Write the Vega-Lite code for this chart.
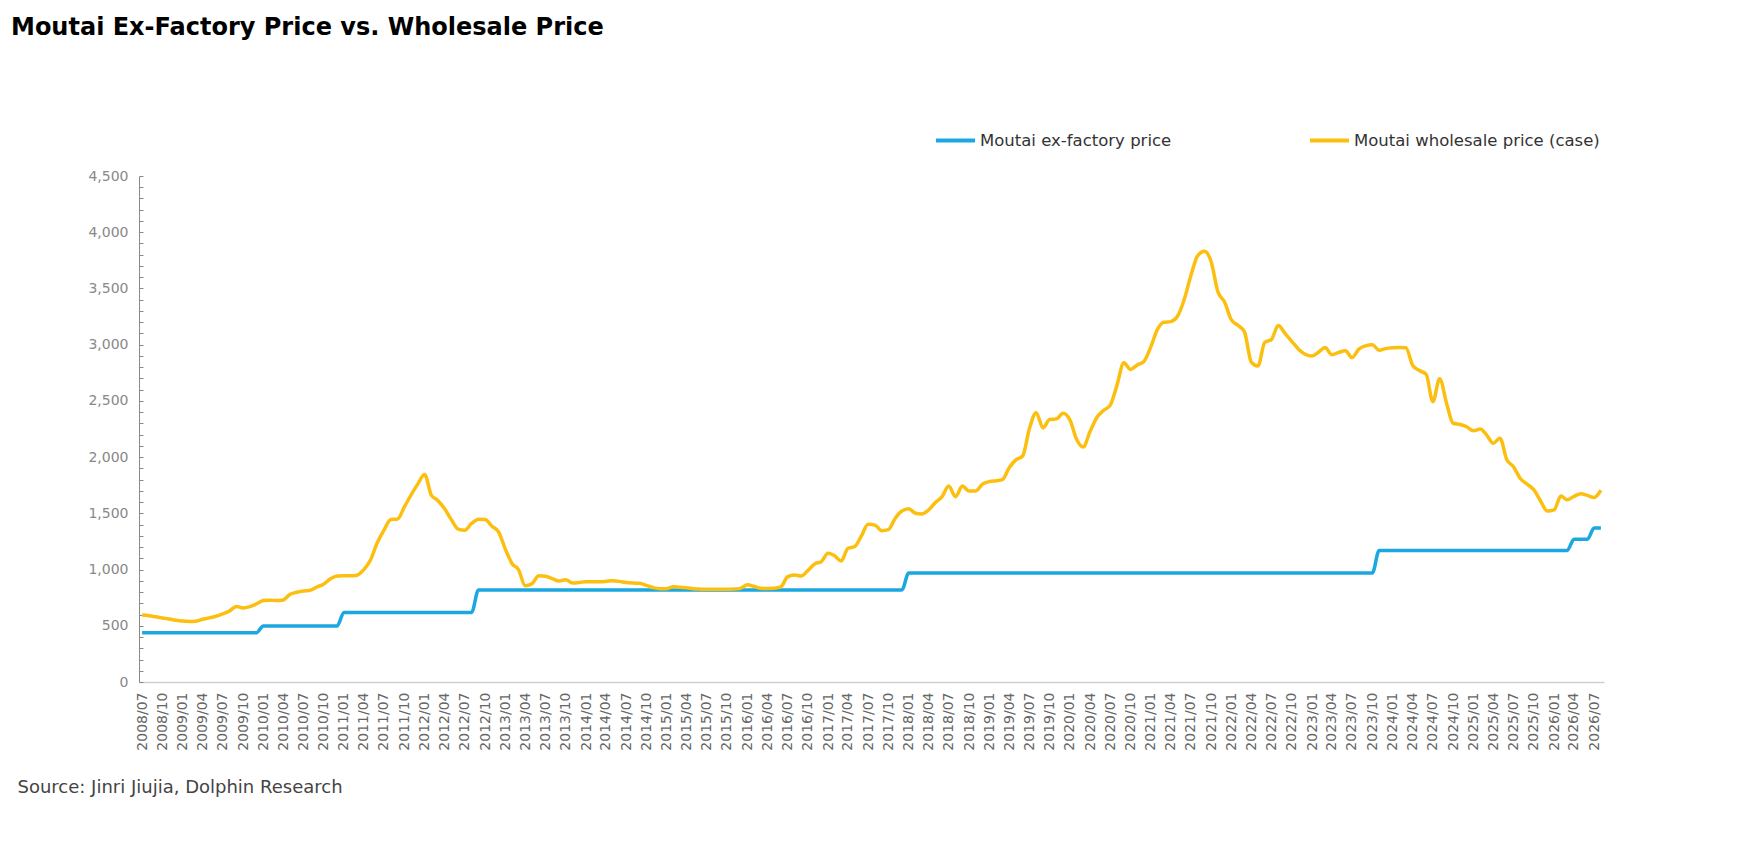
{
  "$schema": "https://vega.github.io/schema/vega-lite/v6.json",
  "autosize": {"type": "none"},
  "width": 1465,
  "height": 506,
  "padding": {"left": 139, "top": 176, "right": 142, "bottom": 176},
  "background": "white",
  "title": {
    "text": "Moutai Ex-Factory Price vs. Wholesale Price",
    "anchor": "start",
    "frame": "group",
    "dx": -128,
    "font": "DejaVu Sans",
    "fontSize": 24,
    "fontWeight": "bold",
    "color": "#000000",
    "offset": 79
  },
  "datasets": {
    "exfactory": [
      {"month": "2008-07", "price": 439},
      {"month": "2009-12", "price": 439},
      {"month": "2010-01", "price": 499},
      {"month": "2010-12", "price": 499},
      {"month": "2011-01", "price": 619},
      {"month": "2012-08", "price": 619},
      {"month": "2012-09", "price": 819},
      {"month": "2017-12", "price": 819},
      {"month": "2018-01", "price": 969},
      {"month": "2023-10", "price": 969},
      {"month": "2023-11", "price": 1169},
      {"month": "2026-03", "price": 1169},
      {"month": "2026-04", "price": 1269},
      {"month": "2026-06", "price": 1269},
      {"month": "2026-07", "price": 1369},
      {"month": "2026-08", "price": 1369}
    ],
    "wholesale": [
      {"month": "2008-07", "price": 595}, {"month": "2008-08", "price": 590}, {"month": "2008-09", "price": 580},
      {"month": "2008-10", "price": 570}, {"month": "2008-11", "price": 560}, {"month": "2008-12", "price": 550},
      {"month": "2009-01", "price": 542}, {"month": "2009-02", "price": 538}, {"month": "2009-03", "price": 540},
      {"month": "2009-04", "price": 558}, {"month": "2009-05", "price": 570}, {"month": "2009-06", "price": 585},
      {"month": "2009-07", "price": 605}, {"month": "2009-08", "price": 632}, {"month": "2009-09", "price": 672},
      {"month": "2009-10", "price": 658}, {"month": "2009-11", "price": 670}, {"month": "2009-12", "price": 695},
      {"month": "2010-01", "price": 724}, {"month": "2010-02", "price": 728}, {"month": "2010-03", "price": 724},
      {"month": "2010-04", "price": 730}, {"month": "2010-05", "price": 778}, {"month": "2010-06", "price": 798},
      {"month": "2010-07", "price": 810}, {"month": "2010-08", "price": 816}, {"month": "2010-09", "price": 845},
      {"month": "2010-10", "price": 870}, {"month": "2010-11", "price": 918}, {"month": "2010-12", "price": 942},
      {"month": "2011-01", "price": 945}, {"month": "2011-02", "price": 945}, {"month": "2011-03", "price": 950},
      {"month": "2011-04", "price": 1000}, {"month": "2011-05", "price": 1085}, {"month": "2011-06", "price": 1240},
      {"month": "2011-07", "price": 1350}, {"month": "2011-08", "price": 1445}, {"month": "2011-09", "price": 1450},
      {"month": "2011-10", "price": 1555}, {"month": "2011-11", "price": 1665}, {"month": "2011-12", "price": 1760},
      {"month": "2012-01", "price": 1845}, {"month": "2012-02", "price": 1660}, {"month": "2012-03", "price": 1615},
      {"month": "2012-04", "price": 1540}, {"month": "2012-05", "price": 1444}, {"month": "2012-06", "price": 1360},
      {"month": "2012-07", "price": 1350}, {"month": "2012-08", "price": 1410}, {"month": "2012-09", "price": 1448},
      {"month": "2012-10", "price": 1445}, {"month": "2012-11", "price": 1385}, {"month": "2012-12", "price": 1335},
      {"month": "2013-01", "price": 1180}, {"month": "2013-02", "price": 1050}, {"month": "2013-03", "price": 1000},
      {"month": "2013-04", "price": 855}, {"month": "2013-05", "price": 873}, {"month": "2013-06", "price": 945},
      {"month": "2013-07", "price": 940}, {"month": "2013-08", "price": 920}, {"month": "2013-09", "price": 898},
      {"month": "2013-10", "price": 910}, {"month": "2013-11", "price": 880}, {"month": "2013-12", "price": 885},
      {"month": "2014-01", "price": 892}, {"month": "2014-02", "price": 892}, {"month": "2014-03", "price": 892},
      {"month": "2014-04", "price": 895}, {"month": "2014-05", "price": 900}, {"month": "2014-06", "price": 895},
      {"month": "2014-07", "price": 885}, {"month": "2014-08", "price": 880}, {"month": "2014-09", "price": 878},
      {"month": "2014-10", "price": 860}, {"month": "2014-11", "price": 839}, {"month": "2014-12", "price": 830},
      {"month": "2015-01", "price": 830}, {"month": "2015-02", "price": 848}, {"month": "2015-03", "price": 842},
      {"month": "2015-04", "price": 839}, {"month": "2015-05", "price": 830}, {"month": "2015-06", "price": 826},
      {"month": "2015-07", "price": 824}, {"month": "2015-08", "price": 824}, {"month": "2015-09", "price": 824},
      {"month": "2015-10", "price": 824}, {"month": "2015-11", "price": 826}, {"month": "2015-12", "price": 833},
      {"month": "2016-01", "price": 865}, {"month": "2016-02", "price": 850}, {"month": "2016-03", "price": 833},
      {"month": "2016-04", "price": 832}, {"month": "2016-05", "price": 833}, {"month": "2016-06", "price": 845},
      {"month": "2016-07", "price": 935}, {"month": "2016-08", "price": 952}, {"month": "2016-09", "price": 943},
      {"month": "2016-10", "price": 990}, {"month": "2016-11", "price": 1050}, {"month": "2016-12", "price": 1070},
      {"month": "2017-01", "price": 1144}, {"month": "2017-02", "price": 1120}, {"month": "2017-03", "price": 1076},
      {"month": "2017-04", "price": 1189}, {"month": "2017-05", "price": 1204}, {"month": "2017-06", "price": 1300},
      {"month": "2017-07", "price": 1402}, {"month": "2017-08", "price": 1395}, {"month": "2017-09", "price": 1346},
      {"month": "2017-10", "price": 1355}, {"month": "2017-11", "price": 1456}, {"month": "2017-12", "price": 1520},
      {"month": "2018-01", "price": 1540}, {"month": "2018-02", "price": 1500}, {"month": "2018-03", "price": 1494},
      {"month": "2018-04", "price": 1530}, {"month": "2018-05", "price": 1595}, {"month": "2018-06", "price": 1648},
      {"month": "2018-07", "price": 1743}, {"month": "2018-08", "price": 1648}, {"month": "2018-09", "price": 1743},
      {"month": "2018-10", "price": 1699}, {"month": "2018-11", "price": 1699}, {"month": "2018-12", "price": 1760},
      {"month": "2019-01", "price": 1782}, {"month": "2019-02", "price": 1790}, {"month": "2019-03", "price": 1800},
      {"month": "2019-04", "price": 1906}, {"month": "2019-05", "price": 1975}, {"month": "2019-06", "price": 2010},
      {"month": "2019-07", "price": 2250}, {"month": "2019-08", "price": 2395}, {"month": "2019-09", "price": 2260},
      {"month": "2019-10", "price": 2335}, {"month": "2019-11", "price": 2340}, {"month": "2019-12", "price": 2390},
      {"month": "2020-01", "price": 2330}, {"month": "2020-02", "price": 2154}, {"month": "2020-03", "price": 2090},
      {"month": "2020-04", "price": 2227}, {"month": "2020-05", "price": 2350}, {"month": "2020-06", "price": 2415},
      {"month": "2020-07", "price": 2460}, {"month": "2020-08", "price": 2640}, {"month": "2020-09", "price": 2840},
      {"month": "2020-10", "price": 2780}, {"month": "2020-11", "price": 2820}, {"month": "2020-12", "price": 2850},
      {"month": "2021-01", "price": 2980}, {"month": "2021-02", "price": 3140}, {"month": "2021-03", "price": 3200},
      {"month": "2021-04", "price": 3205}, {"month": "2021-05", "price": 3250}, {"month": "2021-06", "price": 3400},
      {"month": "2021-07", "price": 3610}, {"month": "2021-08", "price": 3790}, {"month": "2021-09", "price": 3830},
      {"month": "2021-10", "price": 3740}, {"month": "2021-11", "price": 3470}, {"month": "2021-12", "price": 3380},
      {"month": "2022-01", "price": 3220}, {"month": "2022-02", "price": 3170}, {"month": "2022-03", "price": 3115},
      {"month": "2022-04", "price": 2845}, {"month": "2022-05", "price": 2810}, {"month": "2022-06", "price": 3020},
      {"month": "2022-07", "price": 3045}, {"month": "2022-08", "price": 3170}, {"month": "2022-09", "price": 3100},
      {"month": "2022-10", "price": 3030}, {"month": "2022-11", "price": 2960}, {"month": "2022-12", "price": 2915},
      {"month": "2023-01", "price": 2900}, {"month": "2023-02", "price": 2935}, {"month": "2023-03", "price": 2975},
      {"month": "2023-04", "price": 2910}, {"month": "2023-05", "price": 2930}, {"month": "2023-06", "price": 2945},
      {"month": "2023-07", "price": 2885}, {"month": "2023-08", "price": 2960}, {"month": "2023-09", "price": 2990},
      {"month": "2023-10", "price": 3000}, {"month": "2023-11", "price": 2950}, {"month": "2023-12", "price": 2965},
      {"month": "2024-01", "price": 2972}, {"month": "2024-02", "price": 2975}, {"month": "2024-03", "price": 2972},
      {"month": "2024-04", "price": 2815}, {"month": "2024-05", "price": 2770}, {"month": "2024-06", "price": 2736},
      {"month": "2024-07", "price": 2492}, {"month": "2024-08", "price": 2698}, {"month": "2024-09", "price": 2480},
      {"month": "2024-10", "price": 2301}, {"month": "2024-11", "price": 2290}, {"month": "2024-12", "price": 2270},
      {"month": "2025-01", "price": 2235}, {"month": "2025-02", "price": 2251}, {"month": "2025-03", "price": 2198},
      {"month": "2025-04", "price": 2124}, {"month": "2025-05", "price": 2168}, {"month": "2025-06", "price": 1977},
      {"month": "2025-07", "price": 1915}, {"month": "2025-08", "price": 1810}, {"month": "2025-09", "price": 1760},
      {"month": "2025-10", "price": 1710}, {"month": "2025-11", "price": 1610}, {"month": "2025-12", "price": 1520},
      {"month": "2026-01", "price": 1530}, {"month": "2026-02", "price": 1654}, {"month": "2026-03", "price": 1620},
      {"month": "2026-04", "price": 1650}, {"month": "2026-05", "price": 1675}, {"month": "2026-06", "price": 1660},
      {"month": "2026-07", "price": 1640}, {"month": "2026-08", "price": 1705}
    ]
  },
  "encoding": {
    "x": {
      "field": "month",
      "type": "temporal",
      "scale": {
        "domain": [
          {"year": 2008, "month": 6, "date": 17},
          {"year": 2026, "month": 8, "date": 15}
        ]
      },
      "axis": {
        "title": "Source: Jinri Jiujia, Dolphin Research",
        "titleX": -122,
        "titleY": 105,
        "titleAlign": "left",
        "titleBaseline": "middle",
        "titleFont": "DejaVu Sans",
        "titleFontSize": 18,
        "titleFontWeight": "normal",
        "titleColor": "#444444",
        "tickCount": {"interval": "month", "step": 3},
        "format": "%Y/%m",
        "labelAngle": -90,
        "labelFont": "DejaVu Sans",
        "labelFontSize": 14,
        "labelColor": "#666666",
        "labelPadding": 10,
        "labelOverlap": false,
        "labelFlush": false,
        "labelBound": false,
        "ticks": false,
        "grid": false,
        "domainColor": "#d0d0d0",
        "domainWidth": 1.5
      }
    },
    "y": {
      "field": "price",
      "type": "quantitative",
      "scale": {"domain": [0, 4500], "nice": false},
      "axis": {
        "title": null,
        "values": [0, 100, 200, 300, 400, 500, 600, 700, 800, 900, 1000, 1100, 1200, 1300, 1400, 1500, 1600, 1700, 1800, 1900, 2000, 2100, 2200, 2300, 2400, 2500, 2600, 2700, 2800, 2900, 3000, 3100, 3200, 3300, 3400, 3500, 3600, 3700, 3800, 3900, 4000, 4100, 4200, 4300, 4400, 4500],
        "labelExpr": "datum.value % 500 === 0 ? format(datum.value, ',') : ''",
        "labelFont": "DejaVu Sans",
        "labelFontSize": 14,
        "labelColor": "#888888",
        "labelPadding": 15,
        "tickSize": -4,
        "tickColor": "#888888",
        "domainColor": "#888888",
        "grid": false
      }
    },
    "color": {
      "type": "nominal",
      "scale": {
        "domain": ["Moutai ex-factory price", "Moutai wholesale price (case)"],
        "range": ["#1BA8E0", "#FCBF0F"]
      },
      "legend": {
        "title": null,
        "orient": "none",
        "direction": "horizontal",
        "legendX": 795,
        "legendY": -57,
        "symbolType": "stroke",
        "symbolSize": 1521,
        "symbolStrokeWidth": 4,
        "labelFont": "DejaVu Sans",
        "labelFontSize": 16.5,
        "labelColor": "#333333",
        "labelOffset": 3,
        "columnPadding": 130,
        "labelLimit": 400
      }
    }
  },
  "layer": [
    {
      "data": {"name": "exfactory", "format": {"parse": {"month": "date:'%Y-%m'"}}},
      "mark": {"type": "line", "interpolate": "monotone", "strokeWidth": 3.5},
      "encoding": {"color": {"datum": "Moutai ex-factory price"}}
    },
    {
      "data": {"name": "wholesale", "format": {"parse": {"month": "date:'%Y-%m'"}}},
      "mark": {"type": "line", "interpolate": "monotone", "strokeWidth": 3.5},
      "encoding": {"color": {"datum": "Moutai wholesale price (case)"}}
    }
  ],
  "config": {
    "view": {"stroke": null}
  }
}
